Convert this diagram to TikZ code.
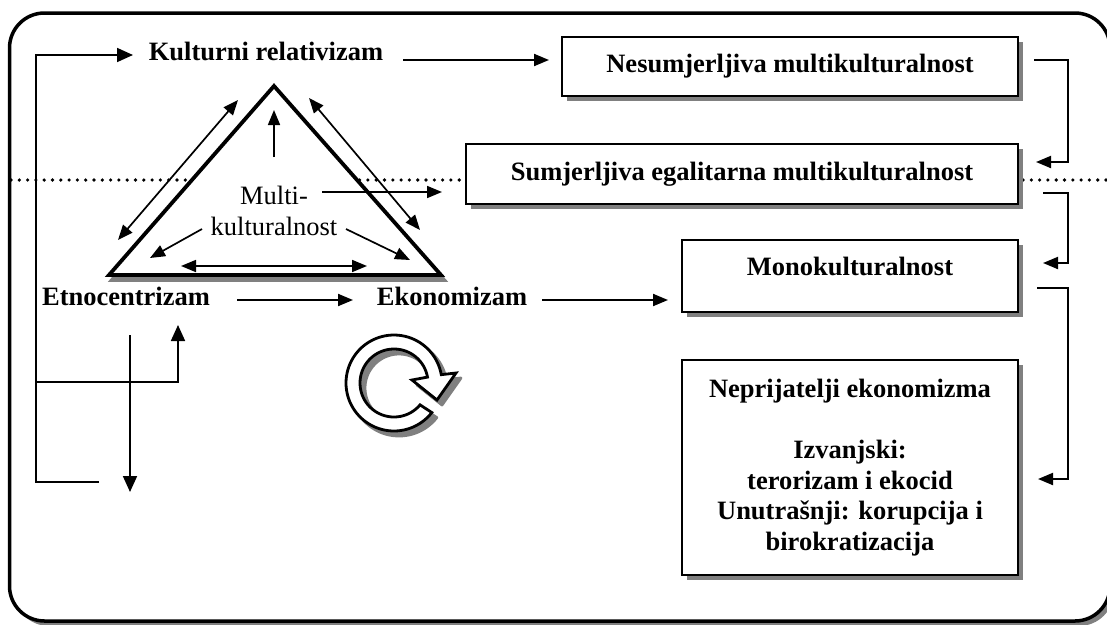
\documentclass[tikz,border=0pt]{standalone}
\usepackage{fontspec}
\setmainfont{Liberation Serif}
\usetikzlibrary{arrows.meta,shadows}
\begin{document}
\begin{tikzpicture}[x=1pt,y=-1pt,
 bigfont/.style={font=\bfseries\fontsize{26.5pt}{30.5pt}\selectfont},
 lbl/.style={bigfont, inner sep=0pt},
 boxn/.style={draw, line width=2.5pt, fill=white, bigfont, inner sep=0pt,
   drop shadow={shadow xshift=5pt, shadow yshift=-5pt, fill=black!50, opacity=1}},
 conn/.style={line width=2pt, -{Triangle[length=15pt,width=12pt]}},
 dbl/.style={line width=1.7pt, {Triangle[length=15pt,width=12pt]}-{Triangle[length=15pt,width=12pt]}},
 sgl/.style={line width=1.7pt, -{Triangle[length=15pt,width=12pt]}},
 loopa/.style={line width=1.8pt, -{Triangle[length=16pt,width=14pt]}},
 dotl/.style={line width=3.6pt, dash pattern=on 0pt off 8.3pt, line cap=round},
]
\useasboundingbox (0,0) rectangle (1107,624);

% outer frame
\fill[black!50, rounded corners=35pt] (14,17) rectangle (1114,626);
\draw[line width=3.5pt, fill=white, rounded corners=35pt] (9.5,13) rectangle (1110,621);

% dotted separator
\coordinate (d1) at (11,180); \coordinate (d2) at (462,180);
\coordinate (d3) at (1023,180); \coordinate (d4) at (1107,180);
\draw[dotl] (d1) -- (d2);
\draw[dotl] (d3) -- (d4);

% triangle
\coordinate (tA) at (274,86); \coordinate (tB) at (109,275); \coordinate (tC) at (441,275);
\fill[black!50, draw=black!50, line width=3.8pt] ([shift={(3,5)}]tA) -- ([shift={(3,5)}]tB) -- ([shift={(3,5)}]tC) -- cycle;
\draw[line width=3.8pt, fill=white] (tA) -- (tB) -- (tC) -- cycle;

% arrows around/in triangle
\coordinate (a1) at (118,240); \coordinate (a2) at (238,100);
\coordinate (a3) at (309,98);  \coordinate (a4) at (420,230);
\coordinate (a5) at (274,157); \coordinate (a6) at (274,110);
\coordinate (a7) at (322,192); \coordinate (a8) at (442,192);
\coordinate (a9) at (202,229); \coordinate (a10) at (150,258);
\coordinate (a11) at (346,229); \coordinate (a12) at (410,260);
\coordinate (a13) at (181,266); \coordinate (a14) at (367,266);
\draw[dbl] (a1) -- (a2);
\draw[dbl] (a3) -- (a4);
\draw[sgl] (a5) -- (a6);
\draw[sgl] (a7) -- (a8);
\draw[sgl] (a9) -- (a10);
\draw[sgl] (a11) -- (a12);
\draw[dbl] (a13) -- (a14);

% labels
\node[lbl, anchor=base] (kr) at (266,60) {Kulturni relativizam};
\node[lbl, anchor=base] (etno) at (126,305) {Etnocentrizam};
\node[lbl, anchor=base] (eko) at (452,305) {Ekonomizam};
\node[font=\fontsize{26.5pt}{31pt}\selectfont, align=center, inner sep=0pt] (multi) at (274,210.5) {Multi-\\kulturalnost};

% boxes
\node[boxn, minimum width=456pt, minimum height=59pt, text height=18pt, text depth=6pt] (nes) at (790,66.5) {Nesumjerljiva multikulturalnost};
\node[boxn, minimum width=552pt, minimum height=60pt, text height=18pt, text depth=6pt] (sum) at (742,174) {Sumjerljiva egalitarna multikulturalnost};
\node[boxn, minimum width=336pt, minimum height=72pt, text height=18pt, text depth=20pt] (mono) at (850,276) {Monokulturalnost};
\node[boxn, align=center, minimum width=336pt, minimum height=215pt] (nep) at (850,467.5) {Neprijatelji ekonomizma\\[30.5pt]Izvanjski:\\terorizam i ekocid\\Unutrašnji: korupcija i\\birokratizacija};

% main connectors
\coordinate (c1) at (403,60); \coordinate (c2) at (549,60);
\draw[conn] (c1) -- (c2);
\coordinate (c3) at (237,300); \coordinate (c4) at (353,300);
\draw[conn] (c3) -- (c4);
\coordinate (c5) at (542,300); \coordinate (c6) at (668,300);
\draw[conn] (c5) -- (c6);

% left loop
\coordinate (L1) at (99,482); \coordinate (L2) at (36,482);
\coordinate (L3) at (36,55); \coordinate (L4) at (133,55);
\draw[loopa] (L1) -- (L2) -- (L3) -- (L4);
\coordinate (L5) at (36,382); \coordinate (L6) at (178,382); \coordinate (L7) at (178,325);
\draw[loopa] (L5) -- (L6) -- (L7);
\coordinate (L8) at (130,335); \coordinate (L9) at (130,492);
\draw[loopa] (L8) -- (L9);

% right connectors
\coordinate (r1) at (1034,60); \coordinate (r2) at (1068,60);
\coordinate (r3) at (1068,162); \coordinate (r4) at (1036,162);
\draw[conn] (r1) -- (r2) -- (r3) -- (r4);
\coordinate (r5) at (1043,193); \coordinate (r6) at (1068,193);
\coordinate (r7) at (1068,263); \coordinate (r8) at (1043,263);
\draw[conn] (r5) -- (r6) -- (r7) -- (r8);
\coordinate (r9) at (1037,288); \coordinate (r10) at (1068,288);
\coordinate (r11) at (1068,479); \coordinate (r12) at (1038,479);
\draw[conn] (r9) -- (r10) -- (r11) -- (r12);

% circular arrow icon
\begin{scope}[shift={(5,5)}]
\filldraw[black!50, line width=2.8pt, line join=round]
  plot[domain=38:350, samples=80] ({394+48*cos(\x)},{383+48*sin(\x)})
  -- (456,373) -- (437,400) -- (412,380)
  -- plot[domain=350:40, samples=80] ({394+34*cos(\x)},{383+34*sin(\x)}) -- cycle;
\end{scope}
\draw[line width=2.8pt, fill=white, line join=miter]
  plot[domain=38:350, samples=80] ({394+48*cos(\x)},{383+48*sin(\x)})
  -- (456,373) -- (437,400) -- (412,380)
  -- plot[domain=350:40, samples=80] ({394+34*cos(\x)},{383+34*sin(\x)}) -- cycle;
\end{tikzpicture}
\end{document}
